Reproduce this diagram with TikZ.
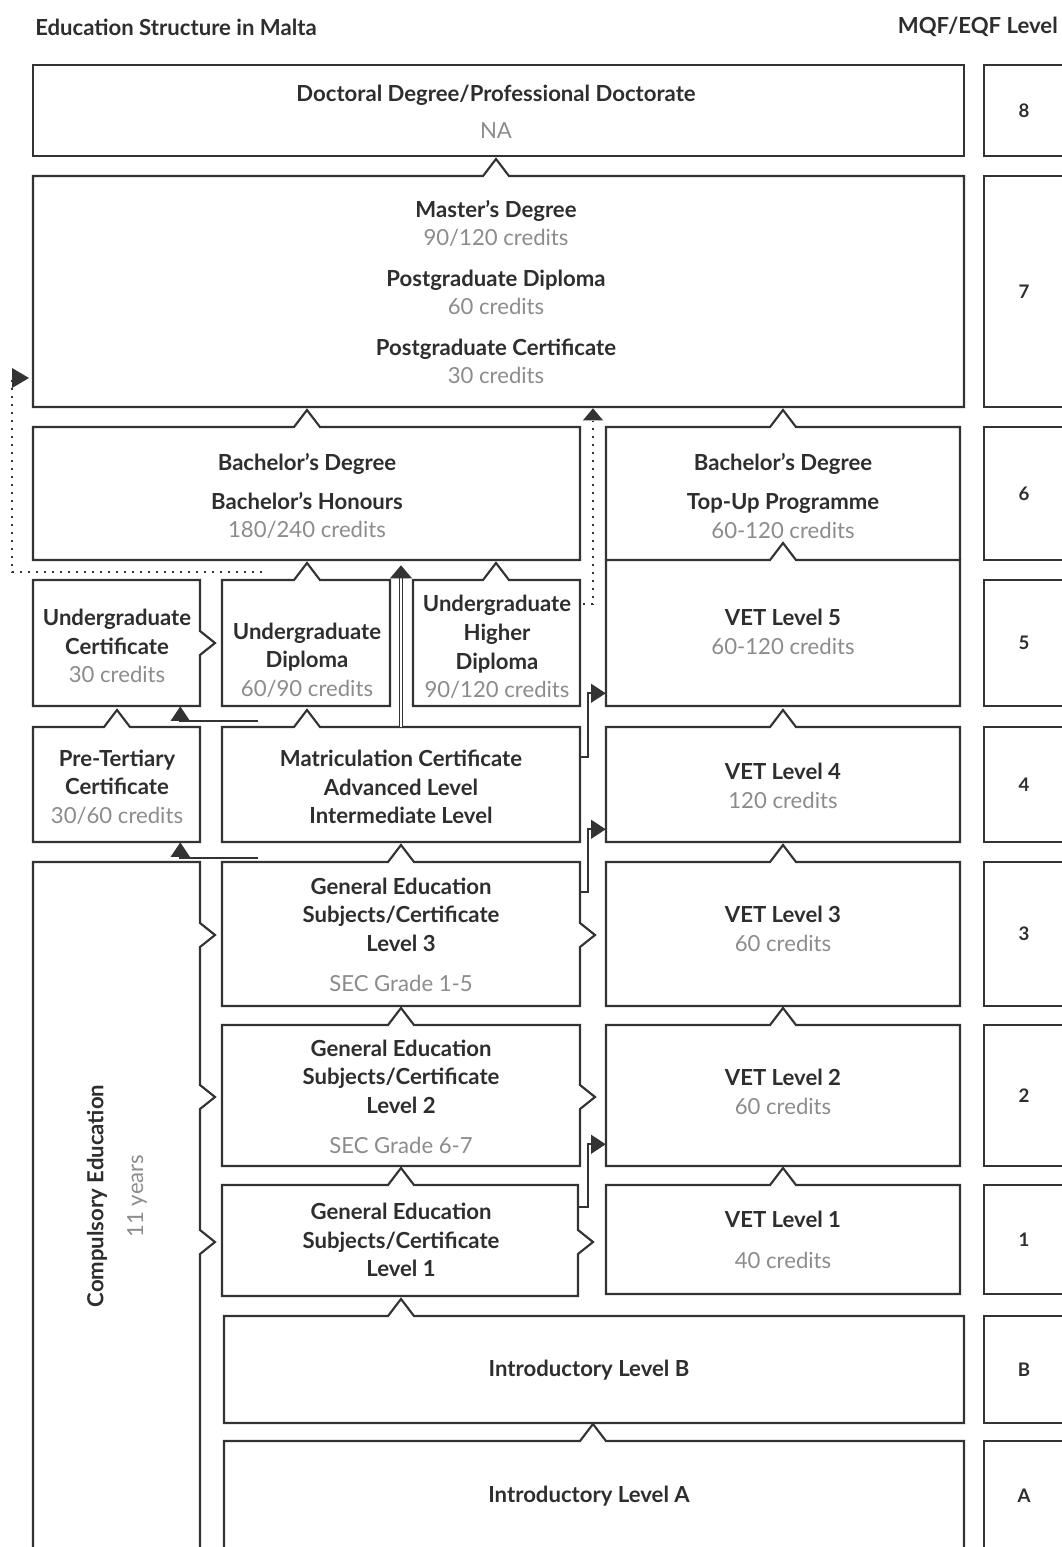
\documentclass[tikz,border=0pt]{standalone}
\usepackage{fontspec}
\setmainfont{Lato}
\usetikzlibrary{arrows.meta,calc,fit}
\definecolor{ln}{HTML}{333333}
\definecolor{gt}{HTML}{8C8C8C}
\definecolor{tx}{HTML}{2E2E2E}
\newcommand\gtx[1]{{\mdseries\color{gt}#1}}
\tikzset{
 ol/.style={draw=ln, line width=1.6pt, line join=miter},
 area/.style={inner sep=0pt, draw=none},
 tn/.style 2 args={insert path={-- ({#1-13},#2) -- (#1,{#2-17}) -- ({#1+13},#2)}},
 rn/.style 2 args={insert path={-- (#1,{#2-12}) -- ({#1+15},#2) -- (#1,{#2+12})}},
 lbl/.style={align=center, font=\fontsize{16.6}{21.4}\selectfont\bfseries, text=tx, inner sep=0pt},
 lvl/.style={font=\fontsize{14}{16}\selectfont\bfseries, text=tx, inner sep=0pt},
 hdr/.style={font=\fontsize{16.6}{18}\selectfont\bfseries, text=tx, inner sep=0pt},
 conn/.style={draw=ln, line width=1.6pt},
 thick conn/.style={draw=ln, line width=2.2pt},
 dotc/.style={draw=ln, line width=2.2pt, dash pattern=on 1.8pt off 4.2pt},
 tip/.style={-{Triangle[width=14pt,length=11pt]}},
}
\newcommand\bx[5]{\path (#2,#3) coordinate (#1-a) (#4,#5) coordinate (#1-b); \node[area, fit=(#1-a)(#1-b)] (#1) {};}
\begin{document}
\begin{tikzpicture}[x=0.75pt,y=-0.75pt]
\useasboundingbox (0,0) rectangle (1062,1547);
\fill[white] (0,0) rectangle (1062,1547);
\clip (0,0) rectangle (1062,1547);

% header
\node[hdr, anchor=west] (title) at (35,27) {Education Structure in Malta};
\node[hdr, anchor=east] (mqf) at (1058,27) {MQF/EQF Level};

% named areas
\bx{docbox}{33}{65}{964}{156}
\bx{masbox}{33}{176}{964}{407}
\bx{bacL}{33}{427}{580}{560}
\bx{bacR}{606}{427}{960}{560}
\bx{ucert}{33}{580}{200}{706}
\bx{udip}{222}{580}{390}{706}
\bx{uhd}{413}{580}{580}{706}
\bx{vet5}{606}{560}{960}{706}
\bx{pret}{33}{727}{200}{842}
\bx{matbox}{222}{727}{580}{842}
\bx{vet4}{606}{727}{960}{842}
\bx{ge3}{222}{862}{580}{1006}
\bx{vet3}{606}{862}{960}{1006}
\bx{ge2}{222}{1025}{580}{1166}
\bx{vet2}{606}{1025}{960}{1166}
\bx{ge1}{222}{1185}{580}{1296}
\bx{vet1}{606}{1185}{960}{1294}
\bx{introB}{224}{1316}{964}{1423}
\bx{introA}{224}{1441}{964}{1547}
\bx{comp}{33}{862}{200}{1547}

% outlines
\draw[ol] (33,65) rectangle (964,156);
\draw[ol] (33,176) [tn={496}{176}] -- (964,176) -- (964,407) -- (33,407) -- cycle;
\draw[ol] (33,427) [tn={307}{427}] -- (580,427) -- (580,560) -- (33,560) -- cycle;
\draw[ol] (606,560) -- (606,427) [tn={783}{427}] -- (960,427) -- (960,560);
\draw[ol] (33,580) -- (200,580) [rn={200}{643}] -- (200,706) -- (33,706) -- cycle;
\draw[ol] (222,580) [tn={307}{580}] -- (390,580) -- (390,706) -- (222,706) -- cycle;
\draw[ol] (413,580) [tn={496}{580}] -- (580,580) -- (580,706) -- (413,706) -- cycle;
\draw[ol] (606,560) [tn={783}{560}] -- (960,560) -- (960,706) -- (606,706) -- cycle;
\draw[ol] (33,727) [tn={117}{727}] -- (200,727) -- (200,842) -- (33,842) -- cycle;
\draw[ol] (222,727) [tn={307}{727}] -- (580,727) -- (580,842) -- (222,842) -- cycle;
\draw[ol] (606,727) [tn={783}{727}] -- (960,727) -- (960,842) -- (606,842) -- cycle;
\draw[ol] (222,862) [tn={401}{862}] -- (580,862) [rn={580}{935}] -- (580,1006) -- (222,1006) -- cycle;
\draw[ol] (606,862) [tn={783}{862}] -- (960,862) -- (960,1006) -- (606,1006) -- cycle;
\draw[ol] (222,1025) [tn={401}{1025}] -- (580,1025) [rn={580}{1097}] -- (580,1166) -- (222,1166) -- cycle;
\draw[ol] (606,1025) [tn={783}{1025}] -- (960,1025) -- (960,1166) -- (606,1166) -- cycle;
\draw[ol] (222,1185) [tn={401}{1185}] -- (578,1185) [rn={578}{1242}] -- (578,1296) -- (222,1296) -- cycle;
\draw[ol] (606,1185) [tn={783}{1185}] -- (960,1185) -- (960,1294) -- (606,1294) -- cycle;
\draw[ol] (224,1316) [tn={401}{1316}] -- (964,1316) -- (964,1423) -- (224,1423) -- cycle;
\draw[ol] (224,1570) -- (224,1441) [tn={593}{1441}] -- (964,1441) -- (964,1570);
\draw[ol] (33,1570) -- (33,862) -- (200,862) [rn={200}{935}] [rn={200}{1097}] [rn={200}{1242}] -- (200,1570);

% level column
\foreach \ya/\yb/\t [count=\i] in {65/156/8,176/407/7,427/560/6,580/706/5,727/842/4,862/1006/3,1025/1166/2,1185/1294/1,1316/1423/B}{
  \draw[ol] (1080,\ya) -- (984,\ya) -- (984,\yb) -- (1080,\yb);
  \node[lvl] (lv\i) at (1024,{(\ya+\yb)/2}) {\t};
}
\draw[ol] (1080,1441) -- (984,1441) -- (984,1570);
\node[lvl] (lvA) at (1024,1496) {A};

% texts
\node[lbl] (docT) at (496,112) {Doctoral Degree/Professional Doctorate\\[6pt]\gtx{NA}};
\node[lbl] (masT) at (496,292) {Master's Degree\\\gtx{90/120 credits}\\[9pt]Postgraduate Diploma\\\gtx{60 credits}\\[9pt]Postgraduate Certificate\\\gtx{30 credits}};
\node[lbl] (bacLT) at (307,496) {Bachelor's Degree\\[8pt]Bachelor's Honours\\\gtx{180/240 credits}};
\node[lbl] (bacRT) at (783,496) {Bachelor's Degree\\[8pt]Top-Up Programme\\\gtx{60-120 credits}};
\node[lbl] (ucertT) at (117,646) {Undergraduate\\Certificate\\\gtx{30 credits}};
\node[lbl] (udipT) at (307,660) {Undergraduate\\Diploma\\\gtx{60/90 credits}};
\node[lbl] (uhdT) at (497,647) {Undergraduate\\Higher\\Diploma\\\gtx{90/120 credits}};
\node[lbl] (vet5T) at (783,632) {VET Level 5\\\gtx{60-120 credits}};
\node[lbl] (pretT) at (117,787) {Pre-Tertiary\\Certificate\\\gtx{30/60 credits}};
\node[lbl] (matT) at (401,787) {Matriculation Certificate\\Advanced Level\\Intermediate Level};
\node[lbl] (vet4T) at (783,786) {VET Level 4\\\gtx{120 credits}};
\node[lbl] (ge3T) at (401,935) {General Education\\Subjects/Certificate\\Level 3\\[9pt]\gtx{SEC Grade 1-5}};
\node[lbl] (vet3T) at (783,929) {VET Level 3\\\gtx{60 credits}};
\node[lbl] (ge2T) at (401,1097) {General Education\\Subjects/Certificate\\Level 2\\[9pt]\gtx{SEC Grade 6-7}};
\node[lbl] (vet2T) at (783,1092) {VET Level 2\\\gtx{60 credits}};
\node[lbl] (ge1T) at (401,1240) {General Education\\Subjects/Certificate\\Level 1};
\node[lbl] (vet1T) at (783,1240) {VET Level 1\\[9pt]\gtx{40 credits}};
\node[lbl] (introBT) at (589,1370) {Introductory Level B};
\node[lbl] (introAT) at (589,1496) {Introductory Level A};
\node[lbl, rotate=90] (compT) at (97,1196) {Compulsory Education};
\node[lbl, rotate=90] (yearsT) at (137,1196) {\gtx{11 years}};

% dotted connectors
\coordinate (d1s) at (262,572);
\coordinate (d1c) at (12,378);
\draw[dotc] (d1s) -| (d1c) -- ($(d1c)+(2,0)$);
\fill[ln] ($(d1c |- 0,368)$) -- (29,378) -- ($(d1c |- 0,388)$) -- cycle;
\coordinate (d2s) at (583,604);
\coordinate (d2c) at (593,604);
\draw[dotc] (d2s) -- (d2c) -- ($(d2c |- masbox.south)+(0,14)$);
\fill[ln] ($(d2c |- masbox.south)+(-10,13)$) -- ($(d2c |- masbox.south)+(0,1)$) -- ($(d2c |- masbox.south)+(10,13)$) -- cycle;

% double connector matriculation -> bachelor
\draw[draw=ln, double=white, double distance=1.6pt, line width=0.9pt] (matbox.north) -- ($(matbox.north |- bacL.south)+(0,16)$);
\fill[ln] ($(matbox.north |- bacL.south)+(-11,18)$) -- ($(matbox.north |- bacL.south)+(0,5)$) -- ($(matbox.north |- bacL.south)+(11,18)$) -- cycle;

% left connectors
\coordinate (h1s) at (258,721);
\draw[thick conn, tip] (h1s) -| ($(ucert.south east)+(-20,0)$);
\coordinate (h2s) at (258,858);
\draw[thick conn, tip] (h2s) -| ($(pret.south east)+(-20,0)$);

% right connectors to VET column
\draw[conn, tip] ($(matbox.east)+(0,-27.5)$) -- ++(8,0) |- ($(vet5.south west)+(0,-13)$);
\draw[conn, tip] ($(ge3.east)+(0,-42)$) -- ++(8,0) |- ($(vet4.south west)+(0,-13)$);
\draw[conn, tip] ($(ge1.east)+(-2,-33.5)$) -- ++(10,0) |- ($(vet2.south west)+(0,-22)$);
\end{tikzpicture}
\end{document}
